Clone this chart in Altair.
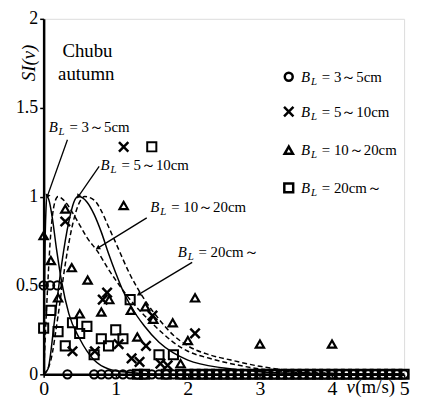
import math
import altair as alt
import pandas as pd

SERIF = "Liberation Serif"
W, H = 364, 359

# ---------------- curves ----------------
c1_v = [0, 0.01, 0.03, 0.05, 0.08, 0.12, 0.18, 0.25, 0.35, 0.5, 0.7, 0.9, 1.2, 1.6, 5.0]
c1_si = [0, 0.45, 0.9, 1.0, 0.97, 0.88, 0.7, 0.52, 0.34, 0.2, 0.08, 0.03, 0.01, 0, 0]

c2_v = [0, 0.06, 0.15, 0.25, 0.35, 0.42, 0.48, 0.6, 0.7, 0.8, 0.9, 1.0, 1.1, 1.2, 1.4, 1.6, 1.8, 2.0, 2.5, 3.0, 3.5, 4.0, 5.0]
c2_si = [0, 0.03, 0.3, 0.62, 0.86, 0.97, 1.0, 0.97, 0.9, 0.8, 0.68, 0.57, 0.47, 0.39, 0.27, 0.18, 0.12, 0.08, 0.035, 0.015, 0.005, 0, 0]

c3_v = [0, 0.05, 0.1, 0.15, 0.2, 0.3, 0.4, 0.5, 0.6, 0.75, 0.9, 1.0, 1.2, 1.4, 1.6, 1.8, 2.0, 2.3, 2.6, 3.0, 3.5, 4.0, 5.0]
c3_si = [0, 0.45, 0.8, 0.96, 1.0, 0.97, 0.91, 0.84, 0.77, 0.69, 0.59, 0.53, 0.42, 0.33, 0.25, 0.18, 0.13, 0.09, 0.06, 0.03, 0.012, 0.003, 0]

c4_v = [0, 0.1, 0.2, 0.3, 0.4, 0.5, 0.57, 0.7, 0.8, 0.9, 1.0, 1.2, 1.4, 1.6, 1.8, 2.0, 2.3, 2.6, 3.0, 3.5, 4.0, 4.5, 5.0]
c4_si = [0, 0.08, 0.33, 0.62, 0.84, 0.97, 1.0, 0.98, 0.92, 0.83, 0.74, 0.56, 0.42, 0.31, 0.22, 0.16, 0.11, 0.08, 0.045, 0.018, 0.006, 0, 0]

# ---------------- observed points ----------------
circ_v = [0.0, 0.09, 0.19, 0.33] + [round(0.7 + 0.1 * i, 1) for i in range(44)]
circ_si = [0.5, 0.5, 0.5, 0.0] + [0.0] * 44

x_v = [0.3, 0.4, 0.71, 0.82, 0.88, 1.04, 1.11, 1.22, 1.33, 1.42, 1.51, 1.62, 1.72, 2.1]
x_si = [0.86, 0.13, 0.13, 0.42, 0.46, 0.17, 1.28, 0.09, 0.07, 0.16, 0.33, 0.06, 0.05, 0.23]

tri_v = [0.0, 0.1, 0.2, 0.3, 0.39, 0.5, 0.61, 0.8, 0.91, 1.11, 1.21, 1.3, 1.41, 1.52, 1.79, 1.9, 2.0, 2.1, 3.0, 4.0]
tri_si = [0.78, 0.64, 0.43, 0.93, 0.6, 0.34, 0.53, 0.35, 0.42, 0.95, 0.36, 0.21, 0.38, 0.31, 0.29, 0.06, 0.19, 0.43, 0.17, 0.17]

sq_nonzero_v = [0.0, 0.1, 0.2, 0.3, 0.4, 0.5, 0.6, 0.7, 0.8, 0.9, 1.0, 1.1, 1.2, 1.5, 1.6, 1.8]
sq_nonzero_si = [0.26, 0.36, 0.24, 0.16, 0.29, 0.23, 0.27, 0.11, 0.2, 0.16, 0.25, 0.2, 0.42, 1.28, 0.11, 0.11]
sq_zero_v = [round(1.3 + 0.1 * i, 1) for i in range(38) if round(1.3 + 0.1 * i, 1) not in (1.5, 1.6, 1.8)]
sq_v = sq_nonzero_v + sq_zero_v
sq_si = sq_nonzero_si + [0.0] * len(sq_zero_v)

# ---------------- labels ----------------
rest_labels = ["= 3～5cm", "= 5～10cm", "= 10～20cm", "= 20cm～"]
ann_v = [0.07, 0.79, 1.48, 1.86]
ann_si = [1.39, 1.18, 0.94, 0.69]
ptr_v1 = [0.33, 0.77, 1.43, 2.06]
ptr_si1 = [1.32, 1.17, 0.88, 0.63]
ptr_v2 = [0.05, 0.48, 0.75, 1.32]
ptr_si2 = [1.0, 1.0, 0.71, 0.45]

leg_mark_v = 3.40
leg_text_v = 3.57
leg_si = [1.674, 1.478, 1.261, 1.049]

title_lines = ["Chubu", "autumn"]
title_v = [0.26, 0.2]
title_si = [1.785, 1.655]

x_ticks = [0, 1, 2, 3, 4, 5]
y_ticks = [0, 0.5, 1, 1.5, 2]

# ---------------- scales ----------------
xs = alt.Scale(domain=[0, 5], nice=False, zero=False)
ys = alt.Scale(domain=[0, 2], nice=False, zero=False)

X = alt.X("v:Q", scale=xs, axis=alt.Axis(
    values=x_ticks, title="", grid=False, domainColor="black", domainWidth=2.5,
    tickColor="black", tickSize=3, tickWidth=1.5, labelFont=SERIF, labelFontSize=20,
    labelColor="black", labelPadding=1, labelFlush=False, format="d"))
Y = alt.Y("si:Q", scale=ys, axis=alt.Axis(
    values=y_ticks, title="SI(v)", grid=False, domainColor="black", domainWidth=2.5,
    tickColor="black", tickSize=4, tickWidth=1.5, labelFont=SERIF, labelFontSize=18,
    labelColor="black", labelPadding=2, labelFlush=False, format="~g",
    titleFont=SERIF, titleFontSize=19, titleFontStyle="italic", titleFontWeight="normal",
    titleColor="black", titleAngle=270, titleX=-15, titleY=44,
    titleAlign="center", titleBaseline="middle"))

def line(v, s, dash):
    kw = dict(color="black", strokeWidth=1.5, interpolate="monotone", clip=True)
    if dash:
        kw["strokeDash"] = [5, 3]
    return alt.Chart(pd.DataFrame({"v": v, "si": s})).mark_line(**kw).encode(x=X, y=Y)

l1 = line(c1_v, c1_si, False)
l2 = line(c2_v, c2_si, False)
l3 = line(c3_v, c3_si, True)
l4 = line(c4_v, c4_si, True)

XPATH = "M-1,-1L1,1M-1,1L1,-1"

def pts(v, s, shape, size, sw):
    return alt.Chart(pd.DataFrame({"v": v, "si": s})).mark_point(
        shape=shape, size=size, filled=False, color="black", strokeWidth=sw, opacity=1
    ).encode(x=X, y=Y)

pts_c = pts(circ_v, circ_si, "circle", 70, 2)
pts_x = pts(x_v, x_si, XPATH, 90, 2.5)
pts_t = pts(tri_v, tri_si, "triangle-up", 70, 2.2)
pts_s = pts(sq_v, sq_si, "square", 85, 2)

sx, sy = W / 5.0, H / 2.0
angles = []
for a, b, c, d in zip(ptr_v1, ptr_si1, ptr_v2, ptr_si2):
    dxp = (c - a) * sx
    dyp = -(d - b) * sy
    angles.append(math.degrees(math.atan2(dxp, -dyp)) % 360)
ptr_df = pd.DataFrame({"v": ptr_v1, "si": ptr_si1, "v2": ptr_v2, "si2": ptr_si2, "ang": angles})
ptrs = alt.Chart(ptr_df).mark_rule(color="black", strokeWidth=1.3).encode(
    x=X, y=Y, x2="v2:Q", y2="si2:Q")
heads = alt.Chart(ptr_df).mark_point(shape="triangle-up", size=28, filled=True, color="black",
                                     opacity=1).encode(
    x=alt.X("v2:Q", scale=xs), y=alt.Y("si2:Q", scale=ys),
    angle=alt.Angle("ang:Q", scale=None))

def bl_label(v, s, rest, size=15):
    df = pd.DataFrame({"v": v, "si": s, "rest": rest})
    b = alt.Chart(df).mark_text(text="B", font=SERIF, fontSize=size, fontStyle="italic",
                                align="left", baseline="middle", color="black").encode(x=X, y=Y)
    l = alt.Chart(df).mark_text(text="L", font=SERIF, fontSize=size - 4, fontStyle="italic",
                                align="left", baseline="middle", dx=10, dy=5, color="black").encode(x=X, y=Y)
    r = alt.Chart(df).mark_text(font=SERIF, fontSize=size, align="left", baseline="middle",
                                dx=21, color="black").encode(x=X, y=Y, text="rest:N")
    return b + l + r

ann = bl_label(ann_v, ann_si, rest_labels, 15)
leg = bl_label([leg_text_v] * 4, leg_si, rest_labels, 15)

leg_c = pts([leg_mark_v], [leg_si[0]], "circle", 64, 2.5)
leg_x = pts([leg_mark_v], [leg_si[1]], XPATH, 90, 2.5)
leg_t = pts([leg_mark_v], [leg_si[2]], "triangle-up", 70, 2.5)
leg_s = pts([leg_mark_v], [leg_si[3]], "square", 80, 2.5)

ttl = alt.Chart(pd.DataFrame({"v": title_v, "si": title_si, "t": title_lines})).mark_text(
    font=SERIF, fontSize=19, align="left", baseline="alphabetic", color="black").encode(
    x=X, y=Y, text="t:N")

xt_df = pd.DataFrame({"v": [4.2], "si": [0.0]})
xt_v = alt.Chart(xt_df).mark_text(text="v", font=SERIF, fontSize=19, fontStyle="italic",
                                  align="left", baseline="top", dy=4, color="black").encode(x=X, y=Y)
xt_r = alt.Chart(xt_df).mark_text(text="(m/s)", font=SERIF, fontSize=19,
                                  align="left", baseline="top", dx=9, dy=4, color="black").encode(x=X, y=Y)

chart = alt.layer(
    l1, l2, l3, l4, ptrs, heads, pts_c, pts_x, pts_t, pts_s, ann, leg,
    leg_c, leg_x, leg_t, leg_s, ttl, xt_v, xt_r
).properties(
    width=W, height=H,
    padding={"left": 7, "top": 0, "right": 0, "bottom": 0}
).configure_view(
    stroke="black", strokeWidth=2
).configure(background="white")

chart.save("out.html", embed_options={"renderer": "svg", "actions": False})
